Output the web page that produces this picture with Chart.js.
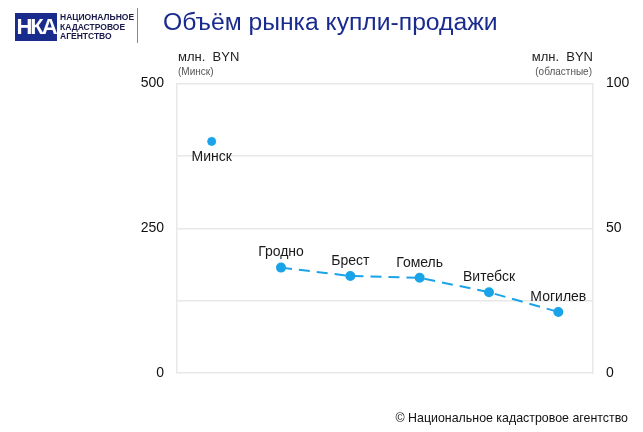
<!DOCTYPE html>
<html>
<head>
<meta charset="utf-8">
<script src="https://cdn.jsdelivr.net/npm/chart.js@4/dist/chart.umd.min.js"></script>
<style>
  html, body { margin: 0; padding: 0; background: #ffffff; width: 643px; height: 432px; overflow: hidden; font-family: Arial, "Liberation Sans", sans-serif; }
  #wrap { position: absolute; left: 0; top: 0; width: 643px; height: 432px; }
  .abs { position: absolute; white-space: nowrap; }
  #title { left: 163px; top: 8px; font-size: 24.7px; color: #1a2b8e; }
  #logo { left: 15px; top: 13px; width: 42px; height: 28px; background: #1a2b8e; color: #ffffff; font-weight: bold; font-size: 22px; line-height: 28px; text-align: center; letter-spacing: -2px; font-family: "Liberation Sans Narrow", Arial, sans-serif; }
  #logotext { left: 60px; top: 13px; font-size: 8.5px; line-height: 9.5px; font-weight: bold; color: #1a1a4a; font-family: "Liberation Sans Narrow", Arial, sans-serif; }
  #divider { left: 137px; top: 8px; width: 1px; height: 35px; background: #888; }
  .ytitle { font-size: 13px; color: #222; }
  .ysub { font-size: 10px; color: #555; }
  #footer { right: 15px; top: 411px; font-size: 12.4px; color: #111; }
</style>
</head>
<body>
<div id="wrap">
  <canvas id="c" width="643" height="432"></canvas>
</div>
<div id="logo" class="abs">НКА</div>
<div id="logotext" class="abs">НАЦИОНАЛЬНОЕ<br>КАДАСТРОВОЕ<br>АГЕНТСТВО</div>
<div id="divider" class="abs"></div>
<div id="title" class="abs">Объём рынка купли-продажи</div>
<div class="abs ytitle" style="left:178px; top:49px;">млн.&nbsp; BYN</div>
<div class="abs ysub" style="left:178px; top:66px;">(Минск)</div>
<div class="abs ytitle" style="right:50px; top:49px;">млн.&nbsp; BYN</div>
<div class="abs ysub" style="right:51px; top:66px;">(областные)</div>
<div id="footer" class="abs">© Национальное кадастровое агентство</div>
<script>
const categories = ['Минск', 'Гродно', 'Брест', 'Гомель', 'Витебск', 'Могилев'];
const minskValues = [400, null, null, null, null, null];
const regionValues = [null, 36.4, 33.5, 32.9, 27.9, 21.1];
const leftTickLabels = [0, 250, 500];
const rightTickLabels = [0, 50, 100];

const pointColor = '#1aa3e8';
const gridColor = '#e8e8e8';

const labelPlugin = {
  id: 'pointLabels',
  afterDatasetsDraw(chart) {
    const ctx = chart.ctx;
    ctx.save();
    ctx.font = '14px Arial, "Liberation Sans", sans-serif';
    ctx.fillStyle = '#1a1a1a';
    ctx.textAlign = 'center';
    ctx.textBaseline = 'middle';
    chart.data.datasets.forEach((ds, di) => {
      const meta = chart.getDatasetMeta(di);
      meta.data.forEach((el, i) => {
        if (ds.data[i] == null) return;
        const below = ds.labelPos === 'below';
        ctx.fillText(categories[i], el.x, el.y + (below ? 16 : -15));
      });
    });
    ctx.restore();
  }
};

new Chart(document.getElementById('c'), {
  type: 'line',
  data: {
    labels: categories,
    datasets: [
      {
        label: 'Минск',
        data: minskValues,
        yAxisID: 'yLeft',
        borderColor: pointColor,
        backgroundColor: pointColor,
        pointRadius: 4,
        showLine: false,
        labelPos: 'below'
      },
      {
        label: 'Области',
        data: regionValues,
        yAxisID: 'yRight',
        borderColor: pointColor,
        backgroundColor: pointColor,
        borderWidth: 2,
        borderDash: [11, 7],
        pointRadius: 4,
        tension: 0,
        spanGaps: false,
        labelPos: 'above'
      }
    ]
  },
  options: {
    responsive: false,
    animation: false,
    devicePixelRatio: 1,
    layout: { padding: { left: 0, right: 0, top: 83.5, bottom: 59 } },
    plugins: { legend: { display: false }, tooltip: { enabled: false } },
    scales: {
      x: {
        display: false,
        offset: true
      },
      yLeft: {
        position: 'left',
        min: 0,
        max: 500,
        afterFit(s) { s.width = 177; },
        ticks: {
          stepSize: 125,
          padding: 13,
          color: '#111',
          font: { size: 14, family: 'Arial, "Liberation Sans", sans-serif' },
          callback: v => leftTickLabels.includes(v) ? String(v) : ''
        },
        grid: { color: gridColor, lineWidth: 1.5, drawTicks: false },
        border: { display: true, color: gridColor, width: 1.5 }
      },
      yRight: {
        position: 'right',
        min: 0,
        max: 100,
        afterFit(s) { s.width = 50; },
        ticks: {
          stepSize: 25,
          padding: 13,
          color: '#111',
          font: { size: 14, family: 'Arial, "Liberation Sans", sans-serif' },
          callback: v => rightTickLabels.includes(v) ? String(v) : ''
        },
        grid: { display: false, drawTicks: false },
        border: { display: true, color: gridColor, width: 1.5 }
      }
    }
  },
  plugins: [labelPlugin]
});
</script>
</body>
</html>
